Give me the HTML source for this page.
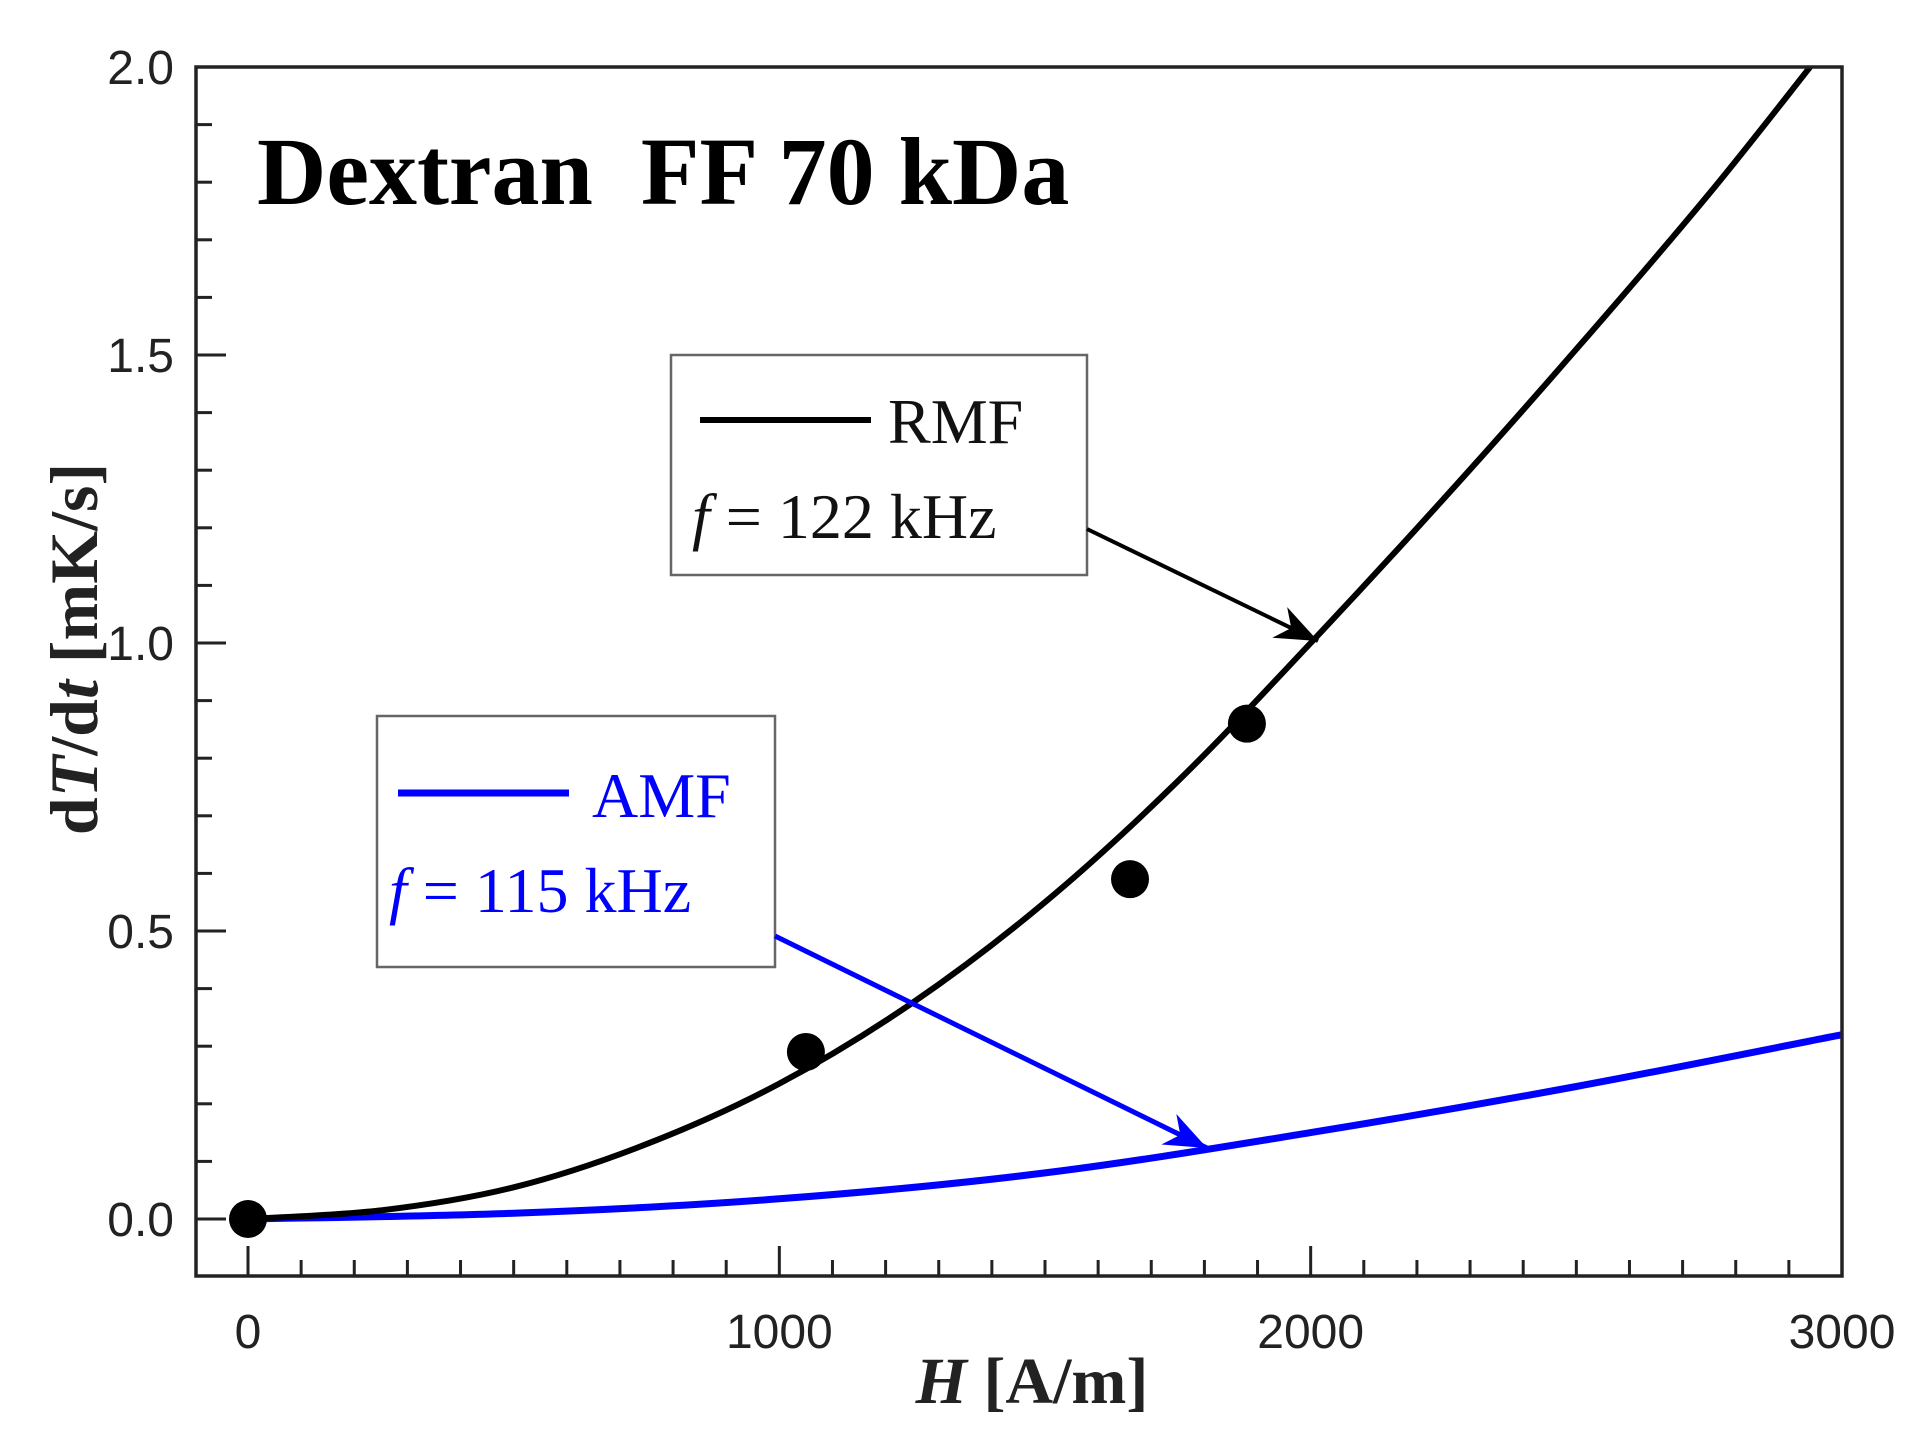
<!DOCTYPE html>
<html><head><meta charset="utf-8"><style>
html,body{margin:0;padding:0;background:#fff;}
svg{display:block;}
</style></head><body>
<svg id="chart" width="1919" height="1444" viewBox="0 0 1919 1444" xmlns="http://www.w3.org/2000/svg">
<g id="plot"></g>
</svg>
<script>
const xTicks=[0,1000,2000,3000];
const xTickLabels=["0","1000","2000","3000"];
const yTicks=[0,0.5,1.0,1.5,2.0];
const yTickLabels=["0.0","0.5","1.0","1.5","2.0"];
const rmfH=[0,250,500,750,1000,1250,1500,1750,2000,2250,2500,2750,2940];
const rmfVal=[0,0.015,0.055,0.13,0.235,0.375,0.55,0.76,1.0,1.25,1.51,1.78,2.0];
const amfH=[0,500,1000,1500,2000,2500,3000];
const amfVal=[0,0.01,0.035,0.08,0.15,0.23,0.32];
const ptsH=[0,1050,1660,1880];
const ptsVal=[0,0.29,0.59,0.86];

const NS="http://www.w3.org/2000/svg";
const L=196,R=1842,T=67,B=1276;
const X0=248,X3=1842,Y0=1219,Y2=67;
function sx(v){return X0+(X3-X0)*v/3000;}
function sy(v){return Y0-(Y0-Y2)*v/2;}
const svg=document.getElementById('chart');
function mk(tag,attrs,parent){const e=document.createElementNS(NS,tag);for(const k in attrs)e.setAttribute(k,attrs[k]);(parent||svg).appendChild(e);return e;}

const defs=mk('defs',{});
const m1=mk('marker',{id:'ab',markerWidth:44,markerHeight:34,refX:10,refY:4,orient:'auto',markerUnits:'userSpaceOnUse',viewBox:'0 0 10 8'},defs);
mk('path',{d:'M0,0 L10,4 L0,8 L3,4 Z',fill:'#000'},m1);
const m2=mk('marker',{id:'au',markerWidth:44,markerHeight:34,refX:10,refY:4,orient:'auto',markerUnits:'userSpaceOnUse',viewBox:'0 0 10 8'},defs);
mk('path',{d:'M0,0 L10,4 L0,8 L3,4 Z',fill:'#0000ff'},m2);

for(let v=0;v<=3000;v+=100){
  const major=v%1000===0;
  const t=mk('line',{x1:sx(v),x2:sx(v),y1:B,y2:B-(major?30:16),stroke:'#222','stroke-width':3});
  
  
}
for(let i=0;i<=20;i++){
  const v=i/10;const major=i%5===0;
  const t=mk('line',{x1:L,x2:L+(major?30:16),y1:sy(v),y2:sy(v),stroke:'#222','stroke-width':3});
  
  
}
xTicks.forEach((v,i)=>{
  const t=mk('text',{x:sx(v),y:1348,'text-anchor':'middle','font-family':'Liberation Sans, sans-serif','font-size':48,fill:'#222'});
  t.textContent=xTickLabels[i];
  
  
});
yTicks.forEach((v,i)=>{
  const t=mk('text',{x:174,y:sy(v)+17,'text-anchor':'end','font-family':'Liberation Sans, sans-serif','font-size':48,fill:'#222'});
  t.textContent=yTickLabels[i];
  
  
});

function smoothPath(xs,ys){
  const p=xs.map((h,i)=>[sx(h),sy(ys[i])]);
  let d='M'+p[0][0].toFixed(1)+','+p[0][1].toFixed(1);
  for(let i=0;i<p.length-1;i++){
    const p0=p[Math.max(0,i-1)],p1=p[i],p2=p[i+1],p3=p[Math.min(p.length-1,i+2)];
    const c1=[p1[0]+(p2[0]-p0[0])/6,p1[1]+(p2[1]-p0[1])/6];
    const c2=[p2[0]-(p3[0]-p1[0])/6,p2[1]-(p3[1]-p1[1])/6];
    d+=' C'+c1.map(n=>n.toFixed(1)).join(',')+' '+c2.map(n=>n.toFixed(1)).join(',')+' '+p2.map(n=>n.toFixed(1)).join(',');
  }
  return d;
}
const clip=mk('clipPath',{id:'cp'},defs);mk('rect',{x:L,y:T,width:R-L,height:B-T},clip);
const amf=mk('path',{d:smoothPath(amfH,amfVal),fill:'none',stroke:'#0000ff','stroke-width':7,'clip-path':'url(#cp)'});


const rmf=mk('path',{d:smoothPath(rmfH,rmfVal),fill:'none',stroke:'#000','stroke-width':6,'clip-path':'url(#cp)'});


ptsH.forEach((h,i)=>{
  const c=mk('circle',{cx:sx(h),cy:sy(ptsVal[i]),r:19,fill:'#000'});
  
  
});

const fr=mk('rect',{x:L,y:T,width:R-L,height:B-T,fill:'none',stroke:'#222','stroke-width':3.5});



const ti=mk('text',{x:257,y:204,'font-family':'Liberation Serif, serif','font-weight':'bold','font-size':96,fill:'#000'});
ti.textContent='Dextran\u00a0\u00a0FF 70 kDa';



const lg1=mk('g',{});


mk('rect',{x:671,y:355,width:416,height:220,fill:'#fff',stroke:'#666','stroke-width':2.5},lg1);
mk('line',{x1:700,x2:871,y1:420,y2:420,stroke:'#000','stroke-width':6},lg1);
let t=mk('text',{x:888,y:443,'font-family':'Liberation Serif, serif','font-size':64,fill:'#111'},lg1);t.textContent='RMF';
t=mk('text',{x:692,y:538,'font-family':'Liberation Serif, serif','font-size':64,fill:'#111'},lg1);
t.innerHTML='<tspan font-style="italic">f</tspan> = 122 kHz';
const lg2=mk('g',{});


mk('rect',{x:377,y:716,width:398,height:251,fill:'#fff',stroke:'#666','stroke-width':2.5},lg2);
mk('line',{x1:398,x2:569,y1:793,y2:793,stroke:'#0000ff','stroke-width':7},lg2);
t=mk('text',{x:592,y:817,'font-family':'Liberation Serif, serif','font-size':64,fill:'#0000ff'},lg2);t.textContent='AMF';
t=mk('text',{x:389,y:912,'font-family':'Liberation Serif, serif','font-size':64,fill:'#0000ff'},lg2);
t.innerHTML='<tspan font-style="italic">f</tspan> = 115 kHz';

const a1=mk('line',{x1:1087,y1:529,x2:1318,y2:641,stroke:'#000','stroke-width':4,'marker-end':'url(#ab)'});


const a2=mk('line',{x1:775,y1:936,x2:1207,y2:1148,stroke:'#0000ff','stroke-width':5,'marker-end':'url(#au)'});



const xt=mk('text',{x:1032,y:1403,'text-anchor':'middle','font-family':'Liberation Serif, serif','font-weight':'bold','font-size':66,fill:'#222'});
xt.innerHTML='<tspan font-style="italic">H</tspan> [A/m]';


const yt=mk('text',{x:0,y:0,'text-anchor':'middle','font-family':'Liberation Serif, serif','font-weight':'bold','font-size':68,fill:'#222',transform:'translate(97,649) rotate(-90)'});
yt.innerHTML='d<tspan font-style="italic">T</tspan>/d<tspan font-style="italic">t</tspan> [mK/s]';


</script>
</body></html>
